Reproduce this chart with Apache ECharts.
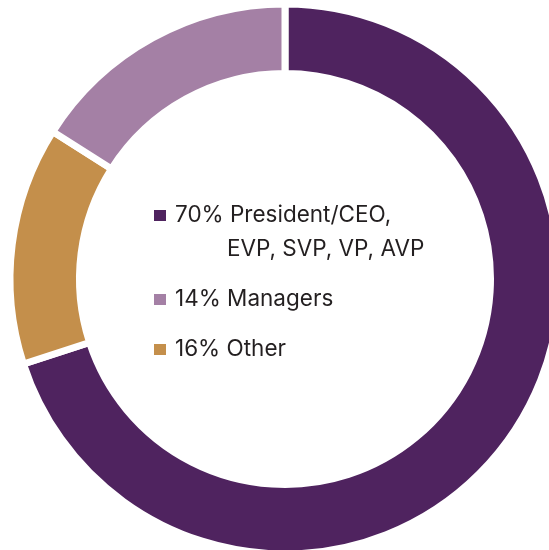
<!DOCTYPE html>
<html>
<head>
<meta charset="utf-8">
<script src="https://cdn.jsdelivr.net/npm/echarts@6/dist/echarts.min.js"></script>
<style>
  html, body { margin: 0; padding: 0; background: #fff; }
  #chart { width: 549px; height: 550px; }
</style>
</head>
<body>
<div id="chart"></div>
<script>
// slices in clockwise order from 12 o'clock
const categories = ['President', 'Other', 'Managers'];
// slice sizes as drawn (the drawn wedges, not the printed percentages)
const sliceValues = [70, 14, 16];
const sliceColors = ['#4f235f', '#c48f4b', '#a480a5'];

// legend order + printed labels
const legendOrder = ['President', 'Managers', 'Other'];
const legendLines = {
  President: ['70% President/CEO,', 'EVP, SVP, VP, AVP'],
  Managers: ['14% Managers'],
  Other: ['16% Other']
};

let myChart = echarts.init(document.getElementById('chart'));

myChart.setOption({
  animation: false,
  legend: {
    orient: 'vertical',
    left: 152,
    top: 170,
    padding: 0,
    itemGap: 27,
    itemWidth: 14,
    itemHeight: 13,
    icon: 'rect',
    selectedMode: false,
    data: legendOrder,
    formatter: function (name) {
      const lines = legendLines[name];
      if (lines.length > 1) {
        // empty top line keeps the square level with the first line
        return '{t| }\n{t|' + lines[0] + '}\n{u|' + lines[1] + '}';
      }
      return '{t|' + lines[0] + '}';
    },
    textStyle: {
      rich: {
        t: { fontFamily: 'Inter', fontSize: 22.5, color: '#231f20', lineHeight: 34, padding: [0, 0, 0, 3] },
        u: { fontFamily: 'Inter', fontSize: 22.5, color: '#231f20', lineHeight: 34, padding: [0, 0, 0, 55] }
      }
    }
  },
  series: [
    {
      type: 'pie',
      center: [285, 279],
      radius: [205.5, 275],
      startAngle: 90,
      clockwise: true,
      silent: true,
      label: { show: false },
      labelLine: { show: false },
      itemStyle: {
        borderColor: '#fff',
        borderWidth: 7
      },
      data: categories.map(function (c, i) {
        return { name: c, value: sliceValues[i], itemStyle: { color: sliceColors[i] } };
      })
    }
  ]
});
</script>
</body>
</html>
